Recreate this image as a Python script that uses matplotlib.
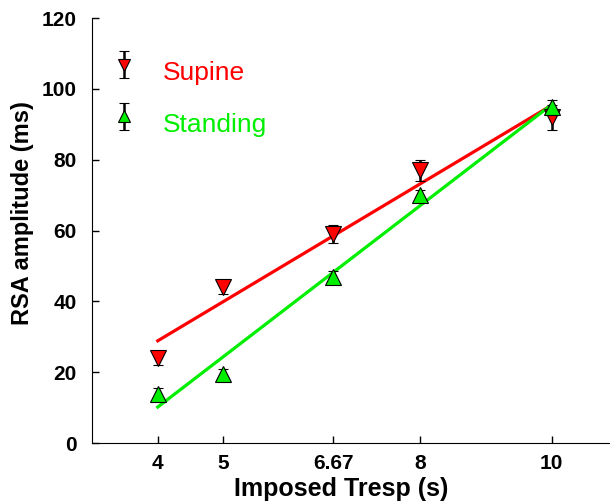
import numpy as np
import matplotlib
matplotlib.use("Agg")
import matplotlib.pyplot as plt

plt.rcParams['font.family'] = ['Liberation Sans', 'DejaVu Sans']

# imposed respiratory period (s)
tresp = [4, 5, 6.67, 8, 10]
tick_labels = ['4', '5', '6.67', '8', '10']

# RSA amplitude (ms), mean and error
supine = [24, 44, 59, 77, 92]
supine_err = [2, 2, 2.5, 3, 3.5]
standing = [14, 19.5, 47, 70, 95]
standing_err = [1.5, 1.5, 1.5, 1.5, 2]

RED = '#ff0000'
GREEN = '#00ee00'

fig = plt.figure(figsize=(6.1, 5.03), dpi=100)
ax = fig.add_axes([0.151, 0.119, 0.861, 0.845])

x = np.array(tresp)
handles = []
for y, err, col, mk, lab in [(supine, supine_err, RED, 'v', 'Supine'),
                             (standing, standing_err, GREEN, '^', 'Standing')]:
    # regression line
    a, b = np.polyfit(x, y, 1)
    ax.plot(x[[0, -1]], a * x[[0, -1]] + b, color=col, lw=2.3, zorder=2)
    h = ax.errorbar(x, y, yerr=err, fmt=mk, ms=11.5, mfc=col, mec='black', mew=0.8,
                    ecolor='black', elinewidth=1.8, capsize=3.5, capthick=3,
                    label=lab, zorder=3)
    handles.append(h)

leg = ax.legend(handles=handles, loc='upper left', bbox_to_anchor=(0.001, 0.957),
                frameon=False, fontsize=19, handlelength=1.0, handletextpad=0.95,
                labelspacing=1.05, markerscale=0.8, borderpad=0.2)
for t, c in zip(leg.get_texts(), [RED, GREEN]):
    t.set_color(c)
    t.set_y(-6)  # labels sit a little below the keys in the original

ax.set_xlim(3, 11)
ax.set_ylim(0, 120)
ax.set_xticks(tresp)
ax.set_xticklabels(tick_labels)
ax.set_yticks(np.arange(0, 121, 20))
ax.tick_params(direction='in', length=5, width=1, labelsize=15)
ax.tick_params(axis='y', pad=11)
ax.tick_params(axis='x', pad=8)
for lbl in ax.get_xticklabels() + ax.get_yticklabels():
    lbl.set_fontweight('bold')
ax.spines['top'].set_visible(False)
ax.spines['right'].set_visible(False)
ax.set_xlabel('Imposed Tresp (s)', fontsize=18, fontweight='bold')
ax.set_ylabel('RSA amplitude (ms)', fontsize=17, fontweight='bold')
ax.xaxis.set_label_coords(0.474, -0.08)
ax.yaxis.set_label_coords(-0.11, 0.542)

fig.savefig('out.png', dpi=100)
